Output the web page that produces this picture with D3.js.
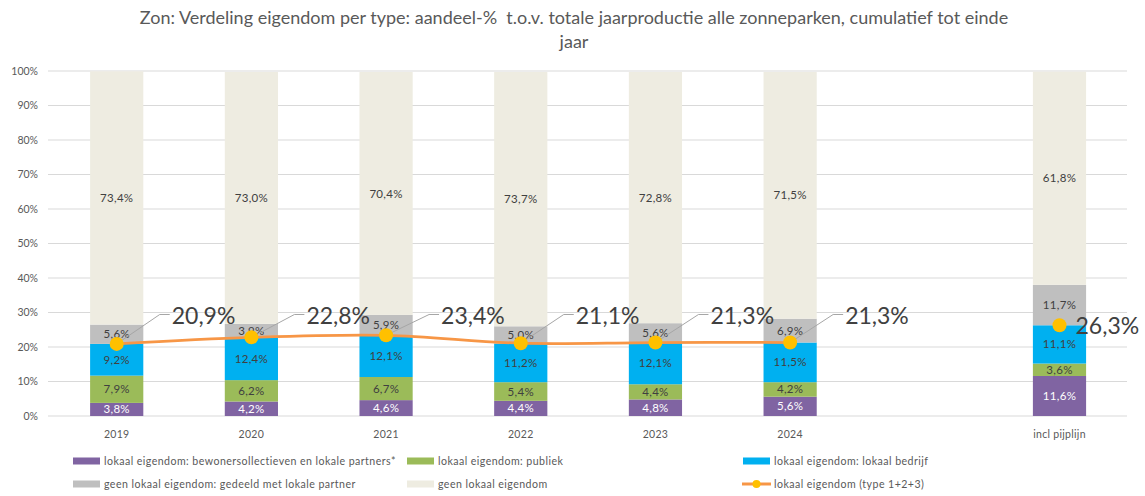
<!DOCTYPE html>
<html><head><meta charset="utf-8">
<script src="https://cdn.jsdelivr.net/npm/d3@7"></script>
<style>body{margin:0;background:#fff}svg{display:block}text{font-family:Lato,"Open Sans",sans-serif;white-space:pre}</style>
</head><body>
<svg id="c" width="1145" height="496"></svg>
<script>
const categories = ["2019","2020","2021","2022","2023","2024","incl pijplijn"];
const bewoners   = [3.8, 4.2, 4.6, 4.4, 4.8, 5.6, 11.6];
const publiek    = [7.9, 6.2, 6.7, 5.4, 4.4, 4.2, 3.6];
const bedrijf    = [9.2, 12.4, 12.1, 11.2, 12.1, 11.5, 11.1];
const gedeeld    = [5.6, 3.9, 5.9, 5.0, 5.6, 6.9, 11.7];
const geen       = [73.4, 73.0, 70.4, 73.7, 72.8, 71.5, 61.8];
const lokaalTotaal = [20.9, 22.8, 23.4, 21.1, 21.3, 21.3, 26.3];
const yTicks = [0,10,20,30,40,50,60,70,80,90,100];
const seriesNames = ["lokaal eigendom: bewonersollectieven en lokale partners*","lokaal eigendom: publiek","lokaal eigendom: lokaal bedrijf","geen lokaal eigendom: gedeeld met lokale partner","geen lokaal eigendom"];
const lineName = "lokaal eigendom (type 1+2+3)";
const title = ["Zon: Verdeling eigendom per type: aandeel-%  t.o.v. totale jaarproductie alle zonneparken, cumulatief tot einde","jaar"];

const colors = ["#8064A2","#9BBB59","#00B0F0","#BFBFBF","#EEECE1"];
const labelColors = ["#ffffff","#404040","#404040","#404040","#404040"];
const fmt = v => v.toFixed(1).replace(".", ",") + "%";

const svg = d3.select("#c");
const L = 48, R = 1127, T = 71, B = 416;
const domain = categories.slice(0,6).concat([" "], categories.slice(6));
const x = d3.scaleBand().domain(domain).range([49.7, 1126.5]).paddingInner(0.605).paddingOuter(0.3);
const y = d3.scaleLinear().domain([0,100]).range([B, T]);

// title
svg.append("text").attr("x", 574).attr("y", 24).attr("text-anchor","middle")
  .attr("font-size", 18).attr("fill","#595959")
  .selectAll("tspan").data(title).join("tspan")
  .attr("x",574).attr("dy",(d,i)=> i? 24 : 0).text(d=>d);

// grid
svg.append("g").selectAll("line").data(yTicks).join("line")
  .attr("x1", L).attr("x2", R).attr("y1", d=>y(d)).attr("y2", d=>y(d))
  .attr("stroke","#D9D9D9").attr("stroke-width",1);
svg.append("g").selectAll("text").data(yTicks).join("text")
  .attr("x", 38).attr("y", d=>y(d)).attr("dy","0.35em").attr("text-anchor","end")
  .attr("font-size",10.5).attr("fill","#595959").text(d=>d+"%");

// stacked bars
const seriesVals = [bewoners, publiek, bedrijf, gedeeld, geen];
const rows = categories.map((c,i)=>{ const o={cat:c}; seriesVals.forEach((s,k)=>o["s"+k]=s[i]); return o; });
const stack = d3.stack().keys(seriesVals.map((s,k)=>"s"+k))(rows);
const gb = svg.append("g");
stack.forEach((layer,k)=>{
  gb.append("g").selectAll("rect").data(layer).join("rect")
    .attr("x", d=>x(d.data.cat)).attr("width", x.bandwidth())
    .attr("y", d=>y(d[1])).attr("height", d=>y(d[0])-y(d[1]))
    .attr("fill", colors[k]);
});
stack.forEach((layer,k)=>{
  gb.append("g").selectAll("text").data(layer).join("text")
    .attr("x", d=>x(d.data.cat)+x.bandwidth()/2).attr("y", d=>y((d[0]+d[1])/2))
    .attr("dy","0.35em").attr("text-anchor","middle").attr("font-size",11.5)
    .attr("letter-spacing",0.3)
    .attr("fill", labelColors[k]).text(d=>fmt(d[1]-d[0]));
});

// x labels
svg.append("g").selectAll("text").data(categories).join("text")
  .attr("x", d=>x(d)+x.bandwidth()/2).attr("y", 434).attr("dy","0.35em")
  .attr("text-anchor","middle").attr("font-size",10.5).attr("letter-spacing",0.3).attr("fill","#595959").text(d=>d);

// line
const pts = categories.map((c,i)=>({cat:c, v:lokaalTotaal[i], cx:x(c)+x.bandwidth()/2, cy:y(lokaalTotaal[i])}));
const linePts = pts.slice(0,6);
const lbY = y(30) + 3;
// leaders
svg.append("g").selectAll("polyline").data(linePts).join("polyline")
  .attr("points", d=>`${d.cx},${d.cy} ${d.cx+43},${lbY-1} ${d.cx+53},${lbY-1}`)
  .attr("fill","none").attr("stroke","#A6A6A6").attr("stroke-width",1);
svg.append("path").datum(linePts)
  .attr("d", d3.line().x(d=>d.cx).y(d=>d.cy).curve(d3.curveCatmullRom.alpha(0.5)))
  .attr("fill","none").attr("stroke","#F79646").attr("stroke-width",2.75);
svg.append("g").selectAll("circle").data(pts).join("circle")
  .attr("cx", d=>d.cx).attr("cy", d=>d.cy).attr("r",7).attr("fill","#FFC000");
svg.append("g").selectAll("text").data(pts).join("text")
  .attr("x", (d,i)=> i<6 ? d.cx+55 : d.cx+16)
  .attr("y", (d,i)=> i<6 ? lbY : d.cy+1).attr("dy","0.35em")
  .attr("font-size",23).attr("fill","#404040").text(d=>fmt(d.v));

// legend
const legendItems = [
  {name:seriesNames[0], c:colors[0], x:73, y:461},
  {name:seriesNames[1], c:colors[1], x:407, y:461},
  {name:seriesNames[2], c:colors[2], x:743, y:461},
  {name:seriesNames[3], c:colors[3], x:73, y:484},
  {name:seriesNames[4], c:colors[4], x:407, y:484},
];
const lg = svg.append("g");
legendItems.forEach(it=>{
  lg.append("rect").attr("x",it.x).attr("y",it.y-3.5).attr("width",27).attr("height",7).attr("fill",it.c);
  lg.append("text").attr("x",it.x+31).attr("y",it.y).attr("dy","0.35em").attr("font-size",10.6)
    .attr("letter-spacing",0.45).attr("fill","#595959").text(it.name);
});
lg.append("line").attr("x1",742).attr("x2",771).attr("y1",484).attr("y2",484).attr("stroke","#F79646").attr("stroke-width",3);
lg.append("circle").attr("cx",756.5).attr("cy",484).attr("r",4).attr("fill","#FFC000");
lg.append("text").attr("x",774).attr("y",484).attr("dy","0.35em").attr("font-size",10.6).attr("letter-spacing",0.45).attr("fill","#595959").text(lineName);
</script>
</body></html>
